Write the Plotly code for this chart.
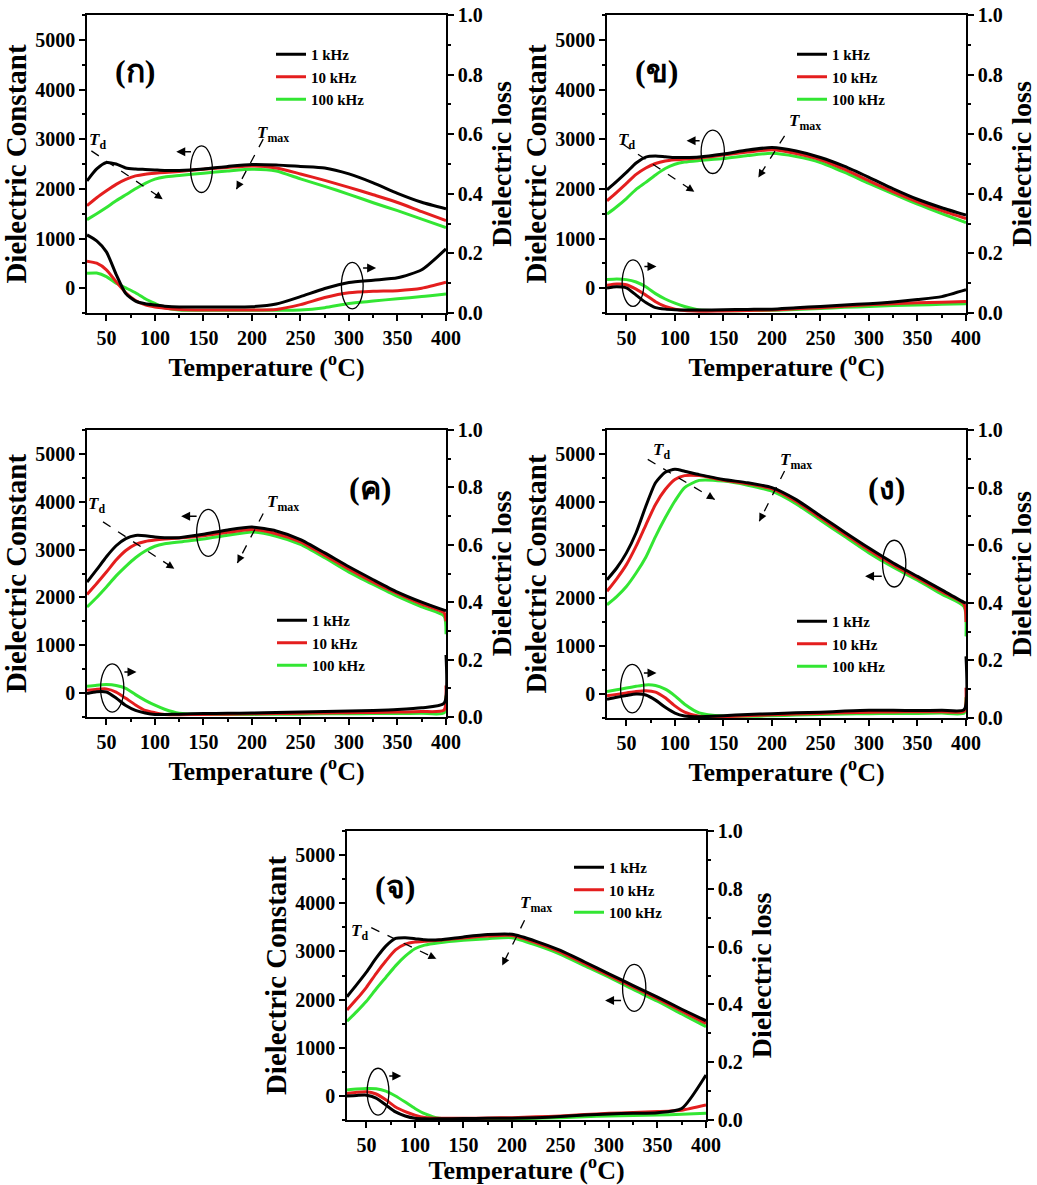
import plotly.graph_objects as go

# ---------------- data ----------------
T_GRID = [30, 40, 50, 60, 70, 80, 90, 100, 110, 125, 150, 175, 200, 225, 250, 275, 300, 325, 350, 375, 400]
T_GRID_END = [30, 40, 50, 60, 70, 80, 90, 100, 110, 125, 150, 175, 200, 225, 250, 275, 300, 325, 350, 375, 398, 400]

FREQS = ["1 kHz", "10 kHz", "100 kHz"]
PANEL_LABELS = ["(ก)", "(ข)", "(ค)", "(ง)", "(จ)"]

# panel (ก)
dc_a_1k = [2160, 2400, 2530, 2500, 2420, 2400, 2390, 2380, 2370, 2370, 2400, 2450, 2490, 2480, 2450, 2420, 2300, 2120, 1910, 1730, 1600]
dc_a_10k = [1660, 1820, 1960, 2090, 2190, 2260, 2295, 2315, 2330, 2350, 2395, 2430, 2460, 2420, 2300, 2170, 2030, 1880, 1725, 1540, 1360]
dc_a_100k = [1380, 1500, 1625, 1760, 1880, 2000, 2110, 2195, 2240, 2270, 2315, 2360, 2395, 2360, 2200, 2050, 1890, 1720, 1560, 1390, 1220]
loss_a_1k = [0.262, 0.242, 0.205, 0.130, 0.065, 0.040, 0.031, 0.027, 0.023, 0.020, 0.020, 0.020, 0.021, 0.030, 0.055, 0.082, 0.102, 0.110, 0.118, 0.145, 0.215]
loss_a_10k = [0.174, 0.167, 0.145, 0.105, 0.068, 0.042, 0.027, 0.020, 0.016, 0.012, 0.010, 0.010, 0.010, 0.012, 0.028, 0.052, 0.068, 0.073, 0.075, 0.083, 0.103]
loss_a_100k = [0.133, 0.134, 0.122, 0.100, 0.084, 0.068, 0.048, 0.032, 0.018, 0.010, 0.009, 0.009, 0.009, 0.009, 0.010, 0.018, 0.032, 0.040, 0.048, 0.055, 0.064]

# panel (ข)
dc_b_1k = [1980, 2150, 2330, 2520, 2640, 2660, 2645, 2630, 2630, 2640, 2700, 2780, 2830, 2760, 2630, 2450, 2230, 2000, 1790, 1620, 1470]
dc_b_10k = [1760, 1930, 2110, 2290, 2420, 2510, 2560, 2585, 2600, 2620, 2680, 2740, 2785, 2710, 2585, 2390, 2160, 1940, 1740, 1560, 1400]
dc_b_100k = [1490, 1640, 1805, 1990, 2130, 2280, 2410, 2495, 2540, 2570, 2610, 2670, 2715, 2650, 2530, 2330, 2110, 1900, 1690, 1500, 1320]
loss_b_1k = [0.084, 0.088, 0.084, 0.060, 0.035, 0.018, 0.013, 0.011, 0.010, 0.010, 0.011, 0.012, 0.013, 0.018, 0.022, 0.027, 0.031, 0.037, 0.045, 0.055, 0.078]
loss_b_10k = [0.093, 0.097, 0.095, 0.080, 0.060, 0.038, 0.022, 0.013, 0.008, 0.006, 0.007, 0.008, 0.010, 0.014, 0.018, 0.023, 0.028, 0.031, 0.034, 0.036, 0.039]
loss_b_100k = [0.112, 0.114, 0.112, 0.104, 0.088, 0.065, 0.047, 0.033, 0.022, 0.010, 0.008, 0.008, 0.009, 0.012, 0.015, 0.019, 0.022, 0.025, 0.027, 0.029, 0.031]

# panel (ค)
dc_c_1k = [2320, 2580, 2850, 3080, 3230, 3295, 3290, 3265, 3250, 3250, 3320, 3410, 3470, 3390, 3210, 2930, 2640, 2370, 2110, 1900, 1735, 1725]
dc_c_10k = [2060, 2290, 2530, 2780, 2980, 3110, 3170, 3200, 3220, 3240, 3290, 3360, 3420, 3330, 3160, 2880, 2590, 2320, 2080, 1860, 1680, 1500]
dc_c_100k = [1800, 2000, 2220, 2450, 2650, 2830, 2970, 3070, 3120, 3160, 3220, 3300, 3370, 3280, 3110, 2830, 2530, 2270, 2020, 1800, 1610, 1230]
loss_c_1k = [0.082, 0.088, 0.087, 0.066, 0.040, 0.023, 0.014, 0.009, 0.009, 0.010, 0.012, 0.013, 0.014, 0.016, 0.017, 0.019, 0.021, 0.023, 0.026, 0.032, 0.048, 0.216]
loss_c_10k = [0.093, 0.097, 0.098, 0.087, 0.065, 0.042, 0.023, 0.015, 0.009, 0.008, 0.009, 0.010, 0.011, 0.012, 0.013, 0.014, 0.015, 0.016, 0.017, 0.019, 0.024, 0.110]
loss_c_100k = [0.107, 0.111, 0.113, 0.110, 0.100, 0.078, 0.058, 0.041, 0.027, 0.013, 0.009, 0.009, 0.009, 0.010, 0.010, 0.011, 0.011, 0.012, 0.012, 0.013, 0.014, 0.075]

# panel (ง)
dc_d_1k = [2380, 2625, 2940, 3360, 3910, 4400, 4620, 4680, 4640, 4570, 4470, 4400, 4300, 4050, 3710, 3370, 3040, 2730, 2450, 2170, 1910, 1895]
dc_d_10k = [2140, 2400, 2695, 3080, 3520, 3950, 4260, 4470, 4550, 4550, 4455, 4380, 4275, 4010, 3670, 3330, 2995, 2690, 2415, 2130, 1870, 1500]
dc_d_100k = [1860, 2030, 2240, 2520, 2850, 3280, 3670, 4020, 4300, 4450, 4435, 4350, 4225, 3960, 3620, 3280, 2940, 2640, 2370, 2080, 1820, 1200]
loss_d_1k = [0.065, 0.072, 0.078, 0.083, 0.080, 0.062, 0.037, 0.017, 0.007, 0.004, 0.008, 0.012, 0.015, 0.018, 0.020, 0.024, 0.027, 0.027, 0.026, 0.027, 0.029, 0.214]
loss_d_10k = [0.077, 0.082, 0.087, 0.092, 0.095, 0.090, 0.070, 0.042, 0.020, 0.006, 0.005, 0.008, 0.011, 0.014, 0.016, 0.018, 0.020, 0.021, 0.022, 0.022, 0.023, 0.105]
loss_d_100k = [0.092, 0.098, 0.104, 0.110, 0.115, 0.113, 0.100, 0.077, 0.048, 0.018, 0.007, 0.006, 0.008, 0.010, 0.012, 0.014, 0.015, 0.016, 0.016, 0.017, 0.017, 0.072]

# panel (จ)
dc_e_1k = [2060, 2310, 2570, 2860, 3110, 3270, 3285, 3265, 3240, 3240, 3300, 3350, 3355, 3210, 3020, 2780, 2535, 2290, 2050, 1800, 1560]
dc_e_10k = [1785, 2010, 2255, 2540, 2800, 3030, 3150, 3195, 3210, 3230, 3280, 3320, 3330, 3180, 2985, 2745, 2500, 2260, 2015, 1760, 1505]
dc_e_100k = [1550, 1750, 1965, 2220, 2460, 2700, 2900, 3055, 3130, 3180, 3230, 3265, 3285, 3130, 2940, 2700, 2465, 2210, 1965, 1700, 1440]
loss_e_1k = [0.083, 0.085, 0.086, 0.076, 0.052, 0.028, 0.014, 0.006, 0.004, 0.004, 0.005, 0.006, 0.006, 0.008, 0.012, 0.017, 0.021, 0.023, 0.025, 0.040, 0.156]
loss_e_10k = [0.092, 0.096, 0.098, 0.090, 0.070, 0.045, 0.029, 0.017, 0.009, 0.006, 0.006, 0.007, 0.008, 0.011, 0.014, 0.019, 0.023, 0.026, 0.029, 0.034, 0.052]
loss_e_100k = [0.104, 0.107, 0.109, 0.108, 0.100, 0.083, 0.062, 0.040, 0.022, 0.006, 0.004, 0.004, 0.004, 0.006, 0.008, 0.011, 0.014, 0.016, 0.017, 0.020, 0.023]

PANELS = [
    (T_GRID, [dc_a_1k, dc_a_10k, dc_a_100k], [loss_a_1k, loss_a_10k, loss_a_100k]),
    (T_GRID, [dc_b_1k, dc_b_10k, dc_b_100k], [loss_b_1k, loss_b_10k, loss_b_100k]),
    (T_GRID_END, [dc_c_1k, dc_c_10k, dc_c_100k], [loss_c_1k, loss_c_10k, loss_c_100k]),
    (T_GRID_END, [dc_d_1k, dc_d_10k, dc_d_100k], [loss_d_1k, loss_d_10k, loss_d_100k]),
    (T_GRID, [dc_e_1k, dc_e_10k, dc_e_100k], [loss_e_1k, loss_e_10k, loss_e_100k]),
]

# ---------------- style / layout ----------------
W, H = 1037, 1185
COLORS = ["#000000", "#e41e1e", "#33e633"]
FONT = "Liberation Serif, Times New Roman, serif"

# plot boxes in pixels: (left, right, top, bottom)
BOXES = [(87, 446, 15, 313), (607, 966, 15, 313), (87, 446, 430, 717),
         (607, 966, 430, 718), (347, 706, 831, 1120)]
LEGEND_POS = [(271, 38), (792, 38), (272, 604), (792, 605), (569, 851)]

# annotation positions in data coords per panel
LABEL_POS = [(79, 4376), (81, 4376), (322, 4280), (318, 4297), (79, 4340)]
TD_TEXT = [(41, 2966), (50, 2966), (40, 3930), (86, 5063), (43, 3403)]
TD_ARROW = [((34.5, 2765), (108, 1792)), ((46.5, 2899), (120, 1940)), ((46.5, 3580), (120, 2601)),
            ((72, 4889), (141, 4053)), ((55, 3493), (122, 2847))]
TM_TEXT = [(222, 3100), (234, 3336), (232, 3965), (225, 4854), (225, 3993)]
TM_ARROW = [((211.6, 3000), (184, 1993)), ((213, 3067), (186, 2228)), ((211.6, 3755), (185, 2720)),
            ((213, 4645), (187, 3600)), ((213, 3646), (190, 2708))]
ELL_DC = [(148, 2396, 11.2, 470), (139, 2745, 12, 436), (155, 3350, 12, 490), (326, 2716, 12, 487), (326, 2243, 12, 486)]
ARR_DC = [((138.7, 2745), (122, 2745)), ((127, 2966), (112, 2966)), ((144.5, 3699), (127, 3699)),
          ((314.7, 2451), (296, 2451)), ((314, 1979), (296, 1979))]
ELL_LOSS = [(303.4, 0.092, 11.2, 0.078), (56.8, 0.100, 11.2, 0.078), (56, 0.101, 12, 0.084),
            (56, 0.102, 12, 0.084), (62, 0.098, 11.2, 0.081)]
ARR_LOSS = [((313, 0.151), (328, 0.151)), ((67, 0.156), (81, 0.156)), ((67, 0.157), (81, 0.157)),
            ((66.5, 0.156), (81, 0.156)), ((72, 0.152), (86, 0.152))]


def ref(letter, i):
    return letter if i == 1 else f"{letter}{i}"


def lname(letter, i):
    return f"{letter}axis" if i == 1 else f"{letter}axis{i}"


fig = go.Figure()
layout = dict(width=W, height=H, margin=dict(l=0, r=0, t=0, b=0),
              paper_bgcolor="white", plot_bgcolor="white", showlegend=True,
              font=dict(family=FONT, color="black"))
shapes, annotations = [], []

tickfont = dict(family=FONT, size=20, color="black", weight="bold")
axis_common = dict(showgrid=False, zeroline=False, showline=True, linecolor="black", linewidth=1.6,
                   ticks="outside", ticklen=6, tickwidth=1.5, tickcolor="black", tickfont=tickfont,
                   automargin=False, fixedrange=True)

for p, (T, dcs, losses) in enumerate(PANELS, start=1):
    L, R = 2 * p - 1, 2 * p
    xr, yl, yr = ref("x", p), ref("y", L), ref("y", R)
    legname = "legend" if p == 1 else f"legend{p}"
    left, right, top, bottom = BOXES[p - 1]
    xdom = [left / W, right / W]
    ydom = [1 - bottom / H, 1 - top / H]

    # draw 100k, 10k, 1k so that 1 kHz is on top
    for k in [2, 1, 0]:
        fig.add_trace(go.Scatter(x=T, y=losses[k], mode="lines", xaxis=xr, yaxis=yr,
                                 line=dict(color=COLORS[k], width=3, shape="spline", smoothing=0.6),
                                 showlegend=False, hoverinfo="skip"))
    for k in [2, 1, 0]:
        fig.add_trace(go.Scatter(x=T, y=dcs[k], mode="lines", xaxis=xr, yaxis=yl, name=FREQS[k],
                                 line=dict(color=COLORS[k], width=3, shape="spline", smoothing=0.6),
                                 legend=legname, showlegend=True, hoverinfo="skip"))

    layout[lname("x", p)] = dict(axis_common, domain=xdom, anchor=yl, range=[30, 400],
                                 tickmode="linear", tick0=0, dtick=50, mirror=True,
                                 minor=dict(tick0=0, dtick=25, ticks="outside", ticklen=3, tickwidth=1.5, tickcolor="black"),
                                 title=dict(text="Temperature (<sup>o</sup>C)", standoff=6,
                                            font=dict(family=FONT, size=26, color="black", weight="bold")))
    layout[lname("y", L)] = dict(axis_common, domain=ydom, anchor=xr, range=[-500, 5500],
                                 tickmode="linear", tick0=0, dtick=1000,
                                 minor=dict(tick0=0, dtick=500, ticks="outside", ticklen=3, tickwidth=1.5, tickcolor="black"),
                                 title=dict(text="Dielectric Constant", standoff=0,
                                            font=dict(family=FONT, size=29, color="black", weight="bold")))
    layout[lname("y", R)] = dict(axis_common, domain=ydom, anchor=xr, overlaying=yl, side="right",
                                 range=[0, 1], tickmode="linear", tick0=0, dtick=0.2, tickformat=".1f",
                                 minor=dict(tick0=0, dtick=0.1, ticks="outside", ticklen=3, tickwidth=1.5, tickcolor="black"),
                                 title=dict(text="Dielectric loss", standoff=10,
                                            font=dict(family=FONT, size=28, color="black", weight="bold")))

    lx, ly = LEGEND_POS[p - 1]
    layout[legname] = dict(x=lx / W, y=1 - ly / H, xanchor="left", yanchor="top",
                           bgcolor="rgba(0,0,0,0)", borderwidth=0, traceorder="reversed",
                           tracegroupgap=0, itemclick=False, itemdoubleclick=False,
                           font=dict(family=FONT, size=15, color="black", weight="bold"))

    # panel label
    lxp, lyp = LABEL_POS[p - 1]
    annotations.append(dict(x=lxp, y=lyp, xref=xr, yref=yl, text=PANEL_LABELS[p - 1], showarrow=False,
                            font=dict(family=FONT, size=32, color="black", weight="bold")))
    # Td and Tmax labels
    tx, ty = TD_TEXT[p - 1]
    annotations.append(dict(x=tx, y=ty, xref=xr, yref=yl, text="<i>T</i><sub>d</sub>", showarrow=False,
                            font=dict(family=FONT, size=17, color="black", weight="bold")))
    tx, ty = TM_TEXT[p - 1]
    annotations.append(dict(x=tx, y=ty, xref=xr, yref=yl, text="<i>T</i><sub>max</sub>", showarrow=False,
                            font=dict(family=FONT, size=17, color="black", weight="bold")))
    # dashed arrows
    for (x0, y0), (x1, y1) in [TD_ARROW[p - 1], TM_ARROW[p - 1]]:
        shapes.append(dict(type="line", xref=xr, yref=yl, x0=x0, y0=y0, x1=x1, y1=y1,
                           line=dict(color="black", width=1.3, dash="dash")))
        annotations.append(dict(x=x1, y=y1, ax=x1 - 0.12 * (x1 - x0), ay=y1 - 0.12 * (y1 - y0),
                                xref=xr, yref=yl, axref=xr, ayref=yl, text="", showarrow=True,
                                arrowhead=2, arrowsize=1.2, arrowwidth=1.3, arrowcolor="black"))
    # ellipses
    cx, cy, hw, hh = ELL_DC[p - 1]
    shapes.append(dict(type="circle", xref=xr, yref=yl, x0=cx - hw, x1=cx + hw, y0=cy - hh, y1=cy + hh,
                       line=dict(color="black", width=1.3)))
    cx, cy, hw, hh = ELL_LOSS[p - 1]
    shapes.append(dict(type="circle", xref=xr, yref=yr, x0=cx - hw, x1=cx + hw, y0=cy - hh, y1=cy + hh,
                       line=dict(color="black", width=1.3)))
    # small solid arrows
    (x0, y0), (x1, y1) = ARR_DC[p - 1]
    annotations.append(dict(x=x1, y=y1, ax=x0, ay=y0, xref=xr, yref=yl, axref=xr, ayref=yl, text="",
                            showarrow=True, arrowhead=2, arrowsize=1.2, arrowwidth=1.5, arrowcolor="black"))
    (x0, y0), (x1, y1) = ARR_LOSS[p - 1]
    annotations.append(dict(x=x1, y=y1, ax=x0, ay=y0, xref=xr, yref=yr, axref=xr, ayref=yr, text="",
                            showarrow=True, arrowhead=2, arrowsize=1.2, arrowwidth=1.5, arrowcolor="black"))

layout["shapes"] = shapes
layout["annotations"] = annotations
fig.update_layout(**layout)
fig.write_html("out.html", config={"displayModeBar": False},
               post_script="document.body.style.margin='0';document.body.style.overflow='hidden';")
